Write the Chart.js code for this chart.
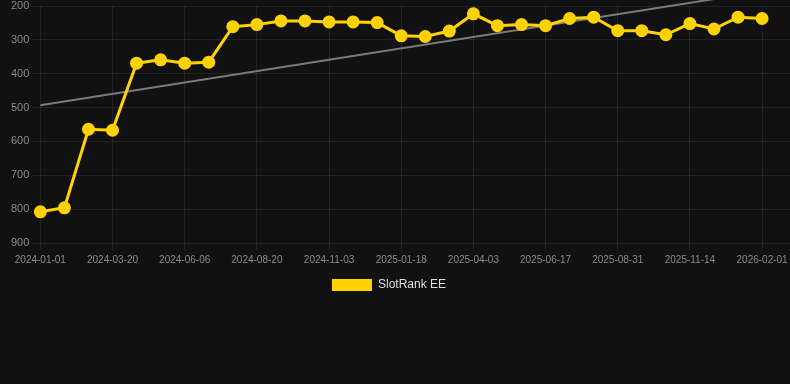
<!DOCTYPE html>
<html>
<head>
<meta charset="utf-8">
<script src="https://cdn.jsdelivr.net/npm/chart.js@4.4.0/dist/chart.umd.min.js"></script>
<style>
  html, body { margin: 0; padding: 0; background: #111111; }
  #wrap { position: relative; width: 790px; height: 301px; }
</style>
</head>
<body>
<div id="wrap"><canvas id="c"></canvas></div>
<script>
const dateLabels = [
  '2024-01-01','2024-01-27','2024-02-23','2024-03-20','2024-04-15','2024-05-11',
  '2024-06-06','2024-07-01','2024-07-26','2024-08-20','2024-09-14','2024-10-09',
  '2024-11-03','2024-11-28','2024-12-24','2025-01-18','2025-02-12','2025-03-09',
  '2025-04-03','2025-04-28','2025-05-23','2025-06-17','2025-07-12','2025-08-06',
  '2025-08-31','2025-09-25','2025-10-20','2025-11-14','2025-12-10','2026-01-06',
  '2026-02-01'
];
const rankValues = [
  808, 796, 564, 567, 369, 359, 369, 366, 261, 255, 244,
  244, 247, 247, 249, 288, 290, 274, 223, 258, 255, 258,
  237, 233, 273, 273, 285, 252, 268, 233, 237
];
const yTicks = [200, 300, 400, 500, 600, 700, 800, 900];
const seriesName = 'SlotRank EE';

// least-squares trend of the series
const n = rankValues.length;
const mx = (n - 1) / 2;
const my = rankValues.reduce((a, b) => a + b, 0) / n;
let sxy = 0, sxx = 0;
rankValues.forEach((v, i) => { sxy += (i - mx) * (v - my); sxx += (i - mx) * (i - mx); });
const slope = sxy / sxx;
const trendPoints = [0, n - 1].map(i => ({ x: i, y: my + slope * (i - mx) }));

const rankPoints = rankValues.map((v, i) => ({ x: i, y: v }));

const FONT = 'Liberation Sans, Arial, sans-serif';

const legendShift = {
  id: 'legendShift',
  afterLayout: chart => { if (chart.legend) chart.legend.right -= 20; }
};

new Chart(document.getElementById('c'), {
  type: 'line',
  plugins: [legendShift],
  data: {
    datasets: [
      {
        label: seriesName,
        data: rankPoints,
        borderColor: '#FFD200',
        backgroundColor: '#FFD200',
        borderWidth: 3,
        pointRadius: 5,
        pointHoverRadius: 5,
        pointBackgroundColor: '#FFD200',
        pointBorderColor: '#FFD200',
        tension: 0,
        clip: false,
        order: 1
      },
      {
        label: 'trend',
        data: trendPoints,
        borderColor: '#7a7a7a',
        borderWidth: 2,
        pointRadius: 0,
        fill: false,
        clip: false,
        order: 2
      }
    ]
  },
  options: {
    responsive: true,
    maintainAspectRatio: false,
    animation: false,
    layout: { autoPadding: false, padding: { left: 8, right: 0, top: 0, bottom: 0 } },
    plugins: {
      legend: {
        position: 'bottom',
        labels: {
          color: '#dddddd',
          font: { family: FONT, size: 12 },
          filter: item => item.text === seriesName,
          generateLabels: chart => Chart.defaults.plugins.legend.labels.generateLabels(chart)
            .map(l => Object.assign(l, { lineWidth: 0 }))
        }
      },
      tooltip: { enabled: false }
    },
    scales: {
      x: {
        type: 'linear',
        min: 0,
        max: 31.16,
        afterBuildTicks: axis => {
          axis.ticks = dateLabels.map((d, i) => ({ value: i })).filter(t => t.value % 3 === 0);
        },
        afterFit: axis => { axis.paddingLeft = 0; axis.paddingRight = 0; },
        ticks: {
          autoSkip: false,
          maxRotation: 0,
          color: '#8a8a8a',
          font: { family: FONT, size: 10 },
          callback: v => dateLabels[v]
        },
        grid: { color: 'rgba(255,255,255,0.07)' },
        border: { display: false }
      },
      y: {
        reverse: true,
        min: 200,
        max: 900,
        afterBuildTicks: axis => { axis.ticks = yTicks.map(v => ({ value: v })); },
        afterFit: axis => { axis.paddingTop = 6; },
        ticks: {
          color: '#8a8a8a',
          font: { family: FONT, size: 11 }
        },
        grid: { color: 'rgba(255,255,255,0.07)' },
        border: { display: false }
      }
    }
  }
});
</script>
</body>
</html>
